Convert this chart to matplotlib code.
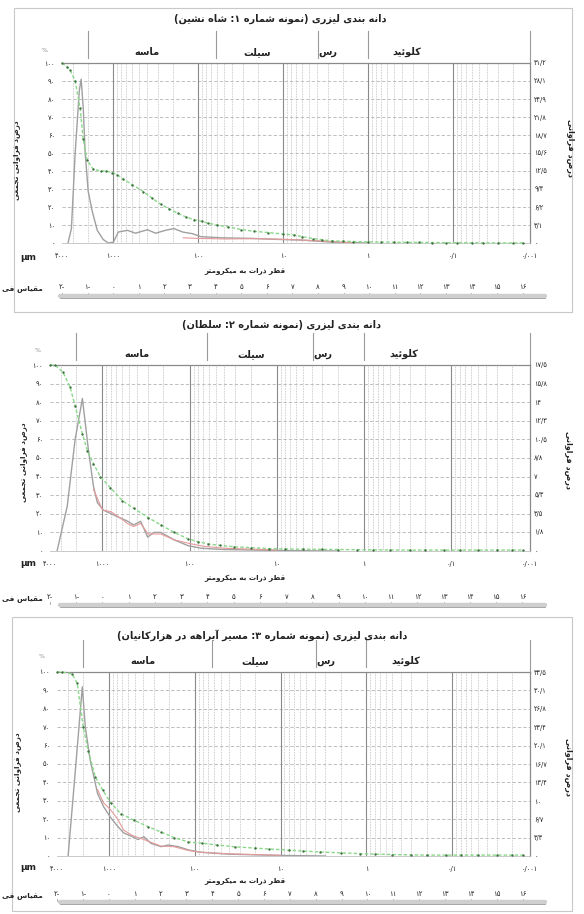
import numpy as np
import matplotlib
matplotlib.use('Agg')
import matplotlib.pyplot as plt
import matplotlib.transforms as mtrans
from matplotlib.font_manager import FontProperties, findfont
from matplotlib.ft2font import FT2Font
from matplotlib.ticker import LogLocator, NullFormatter

# ---------------- data ----------------
titles = ['دانه بندی لیزری (نمونه شماره ۱: شاه نشین)',
          'دانه بندی لیزری (نمونه شماره ۲: سلطان)',
          'دانه بندی لیزری (نمونه شماره ۳: مسیر آبراهه در هزارکانیان)']
classes = ['ماسه', 'سیلت', 'رس', 'کلوئید']
class_label_um = [400, 20, 3, 0.35]
class_bounds_um = [2000, 62.5, 3.9, 1]
decade_lines_um = [1000, 100, 10, 1, 0.1]
um_ticks = [4000, 1000, 100, 10, 1, 0.1, 0.0125]
um_tick_labels = ['۴۰۰۰', '۱۰۰۰', '۱۰۰', '۱۰', '۱', '۰/۱', '۰/۰۰۱']
phi_values = [-2, -1, 0, 1, 2, 3, 4, 5, 6, 7, 8, 9, 10, 11, 12, 13, 14, 15, 16]
phi_labels = ['۲-', '۱-', '۰', '۱', '۲', '۳', '۴', '۵', '۶', '۷', '۸', '۹',
              '۱۰', '۱۱', '۱۲', '۱۳', '۱۴', '۱۵', '۱۶']
left_ticks = [0, 10, 20, 30, 40, 50, 60, 70, 80, 90, 100]
left_tick_labels = ['۰', '۱۰', '۲۰', '۳۰', '۴۰', '۵۰', '۶۰', '۷۰', '۸۰', '۹۰', '۱۰۰']
x_label = 'قطر ذرات به میکرومتر'
phi_name = 'مقیاس فی'
left_ylabel = 'درصد فراوانی تجمعی'
right_ylabel = 'درصد فراوانی'

# panel 1
p1_right_ticks = [0, 3.1, 6.2, 9.4, 12.5, 15.6, 18.7, 21.8, 24.9, 28.1, 31.2]
p1_right_labels = ['۰', '۳/۱', '۶/۲', '۹/۴', '۱۲/۵', '۱۵/۶', '۱۸/۷', '۲۱/۸', '۲۴/۹', '۲۸/۱', '۳۱/۲']
p1_cum_um = [4000, 3500, 3200, 2800, 2450, 2260, 2020, 1720, 1400, 1200, 1020, 900, 760, 600,
             440, 350, 277, 220, 174, 140, 113, 90, 77, 60, 45, 31, 22, 15, 10, 7.5, 6, 4.5,
             3.5, 2.7, 2, 1.5, 1, 0.7, 0.5, 0.35, 0.25, 0.18, 0.12, 0.09, 0.06, 0.045, 0.03,
             0.02, 0.015]
p1_cum = [100, 98, 96, 90, 75, 58, 46, 41, 40, 40, 39, 38, 35.5, 32.5,
          28.5, 25, 21.5, 19, 16.5, 14.5, 13, 12, 11, 10, 9, 7.5, 6.5, 5.8, 5, 4.5, 3.5, 2.5,
          1.8, 1.2, 1, 0.8, 0.6, 0.5, 0.4, 0.35, 0.3, 0.25, 0.2, 0.15, 0.1, 0.05, 0.05,
          0, 0]
p1_freq_um = [3400, 3100, 2800, 2500, 2380, 2250, 2140, 1970, 1770, 1540, 1310, 1140, 995, 870,
              680, 547, 395, 317, 242, 194, 152, 116, 93, 54, 24, 10.5, 6, 2.7, 1]
p1_freq = [0, 2.5, 15.6, 26.5, 28.4, 23.4, 15.9, 9.0, 5.6, 2.2, 0.6, 0, 0.15, 1.9,
           2.2, 1.7, 2.3, 1.7, 2.2, 2.5, 1.9, 1.6, 1.1, 0.9, 0.8, 0.6, 0.5, 0.15, 0]
p1_red_um = [150, 100, 50, 20, 8, 3, 1.5]
p1_red = [0.9, 0.8, 0.7, 0.75, 0.6, 0.3, 0]

# panel 2
p2_right_ticks = [0, 1.8, 3.5, 5.3, 7, 8.8, 10.5, 12.3, 14, 15.8, 17.5]
p2_right_labels = ['۰', '۱/۸', '۳/۵', '۵/۳', '۷', '۸/۸', '۱۰/۵', '۱۲/۳', '۱۴', '۱۵/۸', '۱۷/۵']
p2_cum_um = [4000, 3500, 2830, 2350, 2060, 1700, 1490, 1270, 1060, 810, 590, 440, 300, 214,
             151, 104, 80, 61, 45, 31, 20, 12.4, 8, 5, 3, 2, 1.2, 0.8, 0.5, 0.3, 0.2, 0.12,
             0.08, 0.05, 0.03, 0.02, 0.015]
p2_cum = [100, 100, 96, 88, 78, 63, 54, 47, 40, 34, 27, 23, 18, 14,
          10, 6.5, 5, 3.8, 3, 2.3, 1.8, 1.3, 1.1, 1, 0.9, 0.8, 0.7, 0.6, 0.55, 0.5, 0.5, 0.5,
          0.5, 0.5, 0.5, 0.5, 0.5]
p2_freq_um = [3320, 2540, 2060, 1700, 1455, 1270, 1145, 975, 748, 515, 440, 365, 303, 258,
              214, 151, 104, 74, 40, 10, 2]
p2_freq = [0, 4.2, 10.5, 14.35, 9.6, 6.1, 4.55, 3.85, 3.4, 2.8, 2.45, 2.8, 1.3, 1.75,
           1.75, 1.05, 0.5, 0.26, 0.14, 0.05, 0]
p2_red_um = [1270, 1000, 800, 600, 520, 440, 365, 300, 215, 150, 100, 70, 40, 10]
p2_red = [5.8, 3.85, 3.7, 3.0, 2.6, 2.3, 2.6, 1.6, 1.6, 1.05, 0.7, 0.45, 0.26, 0.09]

# panel 3
p3_right_ticks = [0, 3.3, 6.7, 10, 13.4, 16.7, 20.1, 23.4, 26.8, 30.1, 33.5]
p3_right_labels = ['۰', '۳/۳', '۶/۷', '۱۰', '۱۳/۴', '۱۶/۷', '۲۰/۱', '۲۳/۴', '۲۶/۸', '۳۰/۱', '۳۳/۵']
p3_cum_um = [4000, 3490, 2670, 2330, 1980, 1730, 1430, 1180, 950, 725, 510, 350, 245, 173,
             118, 83, 55, 34, 20, 13.5, 8, 5.5, 3.5, 2, 1.2, 0.8, 0.5, 0.3, 0.2, 0.12, 0.08,
             0.05, 0.03, 0.02, 0.015]
p3_cum = [100, 100, 99, 94, 70, 57, 43, 36, 29, 23, 19.5, 16, 13, 10,
          7.6, 7, 6, 5, 4.3, 3.8, 3.2, 2.7, 2.2, 1.7, 1.3, 1, 0.8, 0.6, 0.5, 0.5, 0.5,
          0.5, 0.5, 0.5, 0.5]
p3_freq_um = [2970, 2460, 2030, 1875, 1640, 1350, 1150, 950, 786, 670, 525, 458, 389, 322,
              245, 203, 155, 118, 83, 40, 10, 3]
p3_freq = [0, 15.1, 30.8, 23.5, 17.4, 11.4, 9.0, 7.0, 5.4, 4.2, 3.5, 3.0, 3.5, 2.3,
           1.7, 2.0, 1.7, 1.1, 0.67, 0.33, 0.1, 0]
p3_red_um = [1350, 1150, 950, 786, 670, 525, 389, 300, 245, 175, 118, 83, 40, 10]
p3_red = [12.1, 9.7, 8.4, 6.7, 4.7, 3.7, 3.0, 2.3, 1.8, 1.7, 1.0, 0.67, 0.4, 0.13]

panels = [
    dict(title=titles[0], rt=p1_right_ticks, rl=p1_right_labels, cx=p1_cum_um, cy=p1_cum,
         fx=p1_freq_um, fy=p1_freq, rx=p1_red_um, ry=p1_red),
    dict(title=titles[1], rt=p2_right_ticks, rl=p2_right_labels, cx=p2_cum_um, cy=p2_cum,
         fx=p2_freq_um, fy=p2_freq, rx=p2_red_um, ry=p2_red),
    dict(title=titles[2], rt=p3_right_ticks, rl=p3_right_labels, cx=p3_cum_um, cy=p3_cum,
         fx=p3_freq_um, fy=p3_freq, rx=p3_red_um, ry=p3_red),
]

# ---------------- layout (pixels) ----------------
geo = [
    dict(l=62, r=530, t=63, b=243, title=(280, 19), um_y=257, xl_y=271, phi_y=287, bar_y=296,
         frame=(14, 8, 572, 312), yl=(17, 160), yr=(570, 148), pct=(45, 50)),
    dict(l=50, r=530, t=365, b=551, title=(282, 325), um_y=563, xl_y=578, phi_y=597, bar_y=605,
         frame=None, yl=(24, 462), yr=(568, 460), pct=(38, 350)),
    dict(l=57, r=530, t=672, b=856, title=(262, 635), um_y=868, xl_y=881, phi_y=894, bar_y=902,
         frame=(12, 617, 572, 911), yl=(18, 772), yr=(568, 767), pct=(42, 657)),
]

W, H = 584, 914
fig = plt.figure(figsize=(W / 100, H / 100), dpi=100)
fig.patch.set_facecolor('white')

# ---------------- Persian shaping (manual, DejaVu Sans presentation forms) ----------------
FONT = 'DejaVu Sans'
_fonts = {}


def _ft(weight):
    if weight not in _fonts:
        _fonts[weight] = FT2Font(findfont(FontProperties(family=FONT, weight=weight)))
    return _fonts[weight]


def _has(font, cp):
    try:
        return font.get_char_index(cp) != 0
    except Exception:
        return False


FORMS = {
    'ا': (0xFE8D, 0xFE8E, None, None), 'آ': (0xFE81, 0xFE82, None, None),
    'ب': (0xFE8F, 0xFE90, 0xFE91, 0xFE92), 'ت': (0xFE95, 0xFE96, 0xFE97, 0xFE98),
    'ج': (0xFE9D, 0xFE9E, 0xFE9F, 0xFEA0), 'د': (0xFEA9, 0xFEAA, None, None),
    'ذ': (0xFEAB, 0xFEAC, None, None), 'ر': (0xFEAD, 0xFEAE, None, None),
    'ز': (0xFEAF, 0xFEB0, None, None), 'س': (0xFEB1, 0xFEB2, 0xFEB3, 0xFEB4),
    'ش': (0xFEB5, 0xFEB6, 0xFEB7, 0xFEB8), 'ط': (0xFEC1, 0xFEC2, 0xFEC3, 0xFEC4),
    'ع': (0xFEC9, 0xFECA, 0xFECB, 0xFECC), 'ف': (0xFED1, 0xFED2, 0xFED3, 0xFED4),
    'ق': (0xFED5, 0xFED6, 0xFED7, 0xFED8), 'ل': (0xFEDD, 0xFEDE, 0xFEDF, 0xFEE0),
    'م': (0xFEE1, 0xFEE2, 0xFEE3, 0xFEE4), 'ن': (0xFEE5, 0xFEE6, 0xFEE7, 0xFEE8),
    'ه': (0xFEE9, 0xFEEA, 0xFEEB, 0xFEEC), 'و': (0xFEED, 0xFEEE, None, None),
    'ئ': (0xFE89, 0xFE8A, 0xFE8B, 0xFE8C), 'ی': (0xFBFC, 0xFBFD, 0xFBFE, 0xFBFF),
    'ک': (0xFB8E, 0xFB8F, 0xFB90, 0xFB91),
}
FALLBACK = {'ی': (0xFEEF, 0xFEF0, 0xFEF3, 0xFEF4), 'ک': (0xFED9, 0xFEDA, 0xFEDB, 0xFEDC)}


def shape(text, weight='normal'):
    font = _ft(weight)
    if not _has(font, 0xFE8D):
        weight = 'normal'
        font = _ft(weight)
    ch = list(text)
    n = len(ch)

    def dual(c):
        return c in FORMS and FORMS[c][2] is not None

    def form(c, k):
        cp = FORMS[c][k]
        if not _has(font, cp) and c in FALLBACK:
            cp = FALLBACK[c][k]
        return chr(cp) if _has(font, cp) else c

    out = []
    i = 0
    while i < n:
        c = ch[i]
        if c not in FORMS:
            out.append(c)
            i += 1
            continue
        prev_j = i > 0 and dual(ch[i - 1])
        if c == 'ل' and i + 1 < n and ch[i + 1] in ('ا', 'آ'):
            lig = {'ا': (0xFEFB, 0xFEFC), 'آ': (0xFEF5, 0xFEF6)}[ch[i + 1]]
            out.append(chr(lig[1] if prev_j else lig[0]))
            i += 2
            continue
        next_j = dual(c) and i + 1 < n and ch[i + 1] in FORMS
        k = 3 if (prev_j and next_j) else 1 if prev_j else 2 if next_j else 0
        out.append(form(c, k))
        i += 1
    s = ''.join(out)[::-1]
    s = s.translate(str.maketrans('()', ')('))
    return s, weight


def ftext(x, y, s, size, weight='normal', **kw):
    t, w = shape(s, weight)
    return fig.text(x / W, 1 - y / H, t, fontsize=size, fontweight=w, family=FONT, **kw)


TXT = '#222222'
GRID = '#b4b4b4'

for p, g in zip(panels, geo):
    # frame
    if g['frame'] is not None:
        x0, y0, x1, y1 = g['frame']
        fig.add_artist(plt.Rectangle((x0 / W, 1 - y1 / H), (x1 - x0) / W, (y1 - y0) / H,
                                     transform=fig.transFigure, fill=False,
                                     edgecolor='#c8c8c8', lw=0.8))
    ax = fig.add_axes([g['l'] / W, 1 - g['b'] / H, (g['r'] - g['l']) / W, (g['b'] - g['t']) / H])
    ax.set_xscale('log')
    ax.set_xlim(4000, 0.0125)
    ax.set_ylim(0, 100)
    ax.set_facecolor('none')
    hpx = g['b'] - g['t']

    # grid
    ax.set_yticks(left_ticks)
    ax.set_yticklabels(left_tick_labels, fontsize=4.8, color=TXT, family=FONT)
    ax.yaxis.grid(True, color=GRID, lw=0.6, ls=(0, (4, 2.5)))
    ax.set_xticks(um_ticks)
    ax.set_xticklabels(um_tick_labels, fontsize=4.8, color=TXT, family=FONT)
    ax.xaxis.set_minor_locator(LogLocator(base=10, subs=(2, 3, 4, 5, 6, 7, 8, 9), numticks=20))
    ax.xaxis.set_minor_formatter(NullFormatter())
    ax.xaxis.grid(True, which='minor', color='#a8a8a8', lw=0.5, ls=(0, (1, 1.3)))
    for d in decade_lines_um:
        ax.axvline(d, color='#8a8a8a', lw=0.8, zorder=1)
    ax.tick_params(axis='both', which='both', length=0)
    ax.tick_params(axis='x', pad=7)
    ax.tick_params(axis='y', pad=5)
    ax.set_axisbelow(True)
    ax.spines['left'].set_visible(False)
    ax.spines['top'].set_color('#8a8a8a')
    ax.spines['top'].set_linewidth(0.9)
    ax.spines['right'].set_color('#8a8a8a')
    ax.spines['right'].set_linewidth(0.9)
    ax.spines['bottom'].set_color('#c0c0c0')
    ax.spines['bottom'].set_linewidth(0.6)

    # curves
    ax2 = ax.twinx()
    ax2.set_ylim(0, p['rt'][-1])
    ax2.set_yticks(p['rt'])
    ax2.set_yticklabels(p['rl'], fontsize=4.8, color=TXT, family=FONT)
    ax2.tick_params(length=0, pad=3)
    for s in ax2.spines.values():
        s.set_visible(False)
    ax2.plot(p['fx'], p['fy'], color='#a0a0a0', lw=1.0, zorder=3)
    ax2.plot(p['rx'], p['ry'], color='#e59a9a', lw=0.8, zorder=3)
    ax2.plot(p['cx'], [v * p['rt'][-1] / 100 for v in p['cy']], color='#8ad88a', lw=1.0,
             ls=(0, (2.5, 1.5)), marker='o', ms=1.7, mfc='#3f6f3f', mec='none', zorder=4,
             clip_on=False)

    # header: class separators and names
    bt = mtrans.blended_transform_factory(ax.transData, ax.transAxes)
    y_lo = 1 + 5 / hpx
    y_hi = 1 + 32 / hpx
    for d in class_bounds_um:
        ax.plot([d, d], [y_lo, y_hi], transform=bt, color='#9a9a9a', lw=0.8, clip_on=False)
    ax.plot([1, 1], [1, y_hi], transform=ax.transAxes, color='#9a9a9a', lw=0.8, clip_on=False)
    for name, xu in zip(classes, class_label_um):
        t, w = shape(name, 'bold')
        ax.text(xu, 1 + 11 / hpx, t, transform=bt, ha='center', va='center', fontsize=7,
                fontweight=w, family=FONT, color=TXT)

    # titles and labels
    ftext(g['title'][0], g['title'][1], p['title'], 7, 'bold', ha='center', va='center', color=TXT)
    fig.text(28 / W, 1 - g['um_y'] / H, 'μm', fontsize=6.5, fontweight='bold', family=FONT,
             ha='center', va='center', color=TXT)
    ftext(245, g['xl_y'], x_label, 5.2, 'bold', ha='center', va='center', color=TXT)
    ftext(22, g['phi_y'] + 2, phi_name, 5.3, 'bold', ha='center', va='center', color=TXT)
    ftext(g['yl'][0], g['yl'][1], left_ylabel, 5.2, 'bold', ha='center', va='center',
          rotation=90, color=TXT)
    ftext(g['yr'][0], g['yr'][1], right_ylabel, 5.8, 'bold', ha='center', va='center',
          rotation=270, color=TXT)
    fig.text(g['pct'][0] / W, 1 - g['pct'][1] / H, '%', fontsize=4.5, color='#888888',
             ha='center', va='center')

    # phi scale
    bx = mtrans.blended_transform_factory(ax.transData, fig.transFigure)
    for ph, lab in zip(phi_values, phi_labels):
        xu = 1000.0 * 2.0 ** (-ph)
        ax.text(xu, 1 - g['phi_y'] / H, lab, transform=bx, ha='center', va='center',
                fontsize=5, color=TXT, family=FONT, clip_on=False)
        ax.plot([xu, xu], [1 - (g['bar_y'] - 3) / H, 1 - (g['bar_y'] - 1) / H], transform=bx,
                color='#888888', lw=0.5, clip_on=False)
    fig.add_artist(plt.Line2D([60 / W, 545 / W], [1 - g['bar_y'] / H] * 2,
                              transform=fig.transFigure, color='#cfcfcf', lw=3.2,
                              solid_capstyle='round'))
    fig.add_artist(plt.Line2D([60 / W, 545 / W], [1 - (g['bar_y'] + 1.8) / H] * 2,
                              transform=fig.transFigure, color='#9a9a9a', lw=0.6))

fig.savefig('out.png', dpi=100, facecolor='white')
